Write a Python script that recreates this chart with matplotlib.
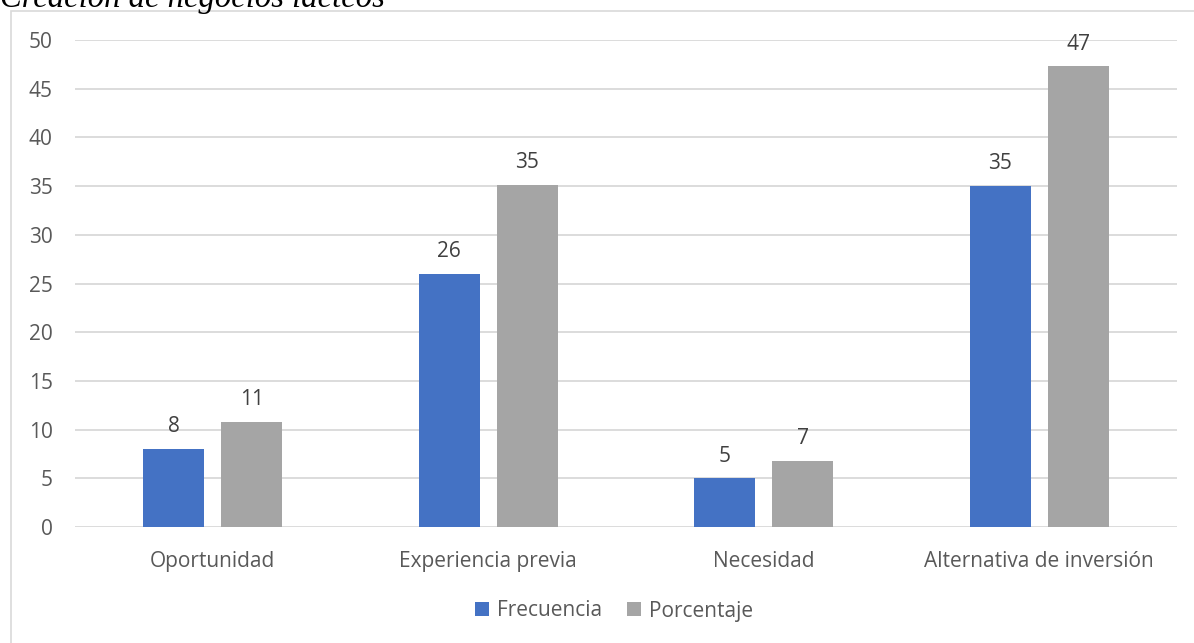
import numpy as np
import matplotlib
matplotlib.use('Agg')
import matplotlib.pyplot as plt
from matplotlib.patches import Rectangle

categorias = ['Oportunidad', 'Experiencia previa', 'Necesidad', 'Alternativa de inversión']
frecuencia = [8, 26, 5, 35]
porcentaje = [10.81, 35.14, 6.76, 47.30]
etiquetas_frec = ['8', '26', '5', '35']
etiquetas_porc = ['11', '35', '7', '47']
yticks = [0, 5, 10, 15, 20, 25, 30, 35, 40, 45, 50]

AZUL = '#4472C4'
GRIS = '#A5A5A5'
TEXTO = '#595959'
REJILLA = '#D9D9D9'

plt.rcParams['font.family'] = ['Open Sans', 'DejaVu Sans']

fig = plt.figure(figsize=(11.94, 6.43), dpi=100)
W, H = 1194, 643

# marco del grafico (recortado a la derecha y abajo)
fig.patches.append(Rectangle((11 / W, -0.05), 1.1, 1 - 11 / H + 0.05,
                             transform=fig.transFigure, fill=False,
                             edgecolor=REJILLA, linewidth=1.2))

# titulo cortado arriba
fig.text(0.0, 1 - 7 / H, 'Creación de negocios lácteos', family='Liberation Serif',
         style='italic', fontsize=23.5, color='black', ha='left', va='baseline')

ax = fig.add_axes([75 / W, 1 - 527 / H, (1177 - 75) / W, (527 - 40) / H])

x = np.arange(len(categorias))
ancho = 0.222
sep = 0.062
b1 = ax.bar(x - (ancho + sep) / 2, frecuencia, ancho, color=AZUL, label='Frecuencia', zorder=3)
b2 = ax.bar(x + (ancho + sep) / 2, porcentaje, ancho, color=GRIS, label='Porcentaje', zorder=3)

for barras, textos in ((b1, etiquetas_frec), (b2, etiquetas_porc)):
    for r, t in zip(barras, textos):
        ax.annotate(t, (r.get_x() + r.get_width() / 2, r.get_height()),
                    xytext=(0, 12), textcoords='offset points', ha='center',
                    va='baseline', fontsize=15, color='#404040', annotation_clip=False)

ax.set_xlim(-0.5, len(categorias) - 0.5)
ax.set_ylim(0, 50)
ax.set_yticks(yticks)
ax.set_xticks(x)
ax.set_xticklabels(categorias)
ax.yaxis.grid(True, color=REJILLA, linewidth=1.3, zorder=0)
ax.set_axisbelow(True)
for s in ax.spines.values():
    s.set_visible(False)
ax.tick_params(axis='both', length=0, labelsize=15, labelcolor=TEXTO)
ax.tick_params(axis='y', pad=16)
ax.tick_params(axis='x', pad=17)

fig.legend(handles=[b1, b2], loc='center', bbox_to_anchor=(614 / W, 1 - 611 / H),
           ncol=2, frameon=False, fontsize=15, labelcolor=TEXTO,
           handlelength=0.65, handleheight=0.65, handletextpad=0.4, columnspacing=1.2)

fig.savefig('out.png', dpi=100)
